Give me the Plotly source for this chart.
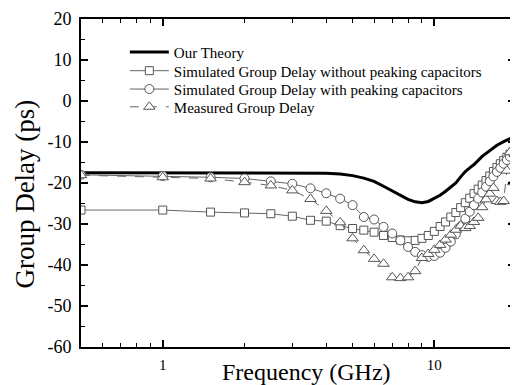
import plotly.graph_objects as go

# ---- data ----
freq_ghz = [0.5, 1.0, 1.5, 2.0, 2.5, 3.0, 3.5, 4.0, 4.5, 5.0,
            5.5, 6.0, 6.5, 7.0, 7.5, 8.0, 8.5, 9.0, 9.5, 10.0,
            10.5, 11.0, 11.5, 12.0, 12.5, 13.0, 13.5, 14.0, 14.5, 15.0,
            15.5, 16.0, 16.5, 17.0, 17.5, 18.0, 18.5, 19.0, 19.5, 20.0]

theory_freq = [0.5, 1.0, 2.0, 3.0, 4.0, 4.5, 5.0, 5.5, 6.0, 6.5, 7.0, 7.5,
               8.0, 8.5, 9.0, 9.5, 10.0, 10.5, 11.0, 11.5, 12.0, 12.5, 13.0,
               13.5, 14.0, 15.0, 16.0, 17.0, 18.0, 19.0, 20.0]
theory_delay = [-17.5, -17.5, -17.5, -17.5, -17.6, -17.8, -18.2, -18.8, -19.6,
                -20.8, -22.0, -23.0, -24.0, -24.6, -24.8, -24.5, -23.8, -23.0,
                -22.0, -21.0, -20.0, -18.5, -17.2, -16.3, -15.5, -13.5, -12.0,
                -10.8, -9.9, -9.1, -8.5]

sim_without = [-26.6, -26.6, -27.1, -27.3, -27.5, -28.1, -29.1, -29.3, -30.4, -31.1,
               -31.5, -32.0, -32.8, -33.3, -33.9, -34.1, -34.0, -33.5, -32.8, -31.8,
               -30.6, -29.5, -28.3, -27.2, -26.0, -24.8, -23.7, -22.6, -21.5, -20.5,
               -19.4, -18.3, -17.2, -16.2, -15.3, -14.5, -13.7, -13.0, -12.3, -11.8]

sim_with = [-18.0, -18.3, -18.6, -18.9, -19.6, -20.2, -21.3, -22.5, -23.8, -25.4,
            -28.3, -28.9, -30.7, -32.3, -34.0, -35.6, -36.8, -37.6, -38.0, -37.8,
            -37.0, -35.8, -34.3, -32.5, -30.6, -28.7, -27.0, -25.4, -23.8, -22.3,
            -20.9, -19.6, -18.4, -17.3, -16.3, -15.3, -14.4, -13.6, -12.9, -12.3]

measured = [-18.1, -18.6, -18.9, -19.8, -20.6, -21.8, -23.9, -26.8, -29.6, -33.5,
            -36.4, -38.5, -39.7, -43.0, -43.2, -43.0, -41.5, -38.3, -37.3, -36.3,
            -35.1, -33.8, -32.6, -31.4, -30.4, -31.0, -30.5, -29.5, -28.5, -25.9,
            -24.0, -22.6, -21.2, -24.4, -24.6, -24.4, -17.0, -12.5, -19.8, -19.0]

names = ["Our Theory",
         "Simulated Group Delay without peaking capacitors",
         "Simulated Group Delay with peaking capacitors",
         "Measured Group Delay"]

y_ticks = [20, 10, 0, -10, -20, -30, -40, -50, -60]
y_ticktext = ["20", "10", "0", "-10", "-20", "-30", "-40", "-50", "-60"]
x_ticks = [1, 10]
x_ticktext = ["1", "10"]
x_minor = [0.6, 0.7, 0.8, 0.9, 2, 3, 4, 5, 6, 7, 8, 9, 20]
y_minor = [15, 5, -5, -15, -25, -35, -45, -55]

SERIF = "Liberation Serif"
GRAY = "#666666"

fig = go.Figure()
fig.add_trace(go.Scatter(x=theory_freq, y=theory_delay, mode="lines", name=names[0],
                         legend="legend",
                         line=dict(color="black", width=3)))
fig.add_trace(go.Scatter(x=freq_ghz, y=sim_without, mode="lines+markers", name=names[1],
                         legend="legend2",
                         line=dict(color=GRAY, width=1),
                         marker=dict(symbol="square", size=8, color="white",
                                     line=dict(color="#555555", width=1))))
fig.add_trace(go.Scatter(x=freq_ghz, y=sim_with, mode="lines+markers", name=names[2],
                         legend="legend3",
                         line=dict(color=GRAY, width=1),
                         marker=dict(symbol="circle", size=9, color="white",
                                     line=dict(color="#555555", width=1))))
fig.add_trace(go.Scatter(x=freq_ghz, y=measured, mode="lines+markers", name=names[3],
                         legend="legend4",
                         line=dict(color=GRAY, width=1, dash="dash"),
                         marker=dict(symbol="triangle-up", size=10, color="white",
                                     line=dict(color="#555555", width=1))))


def legend_row(ypos):
    return dict(x=0.101, y=ypos, xanchor="left", yanchor="top",
                bgcolor="rgba(0,0,0,0)", borderwidth=0,
                font=dict(family=SERIF, size=15, color="black"),
                itemwidth=39, tracegroupgap=0)


# the page body has an 8px default margin, so the figure is sized to fit the window
fig.update_layout(
    width=510, height=377,
    margin=dict(l=73, r=1, t=7, b=38),
    paper_bgcolor="white", plot_bgcolor="white",
    font=dict(family=SERIF, color="black"),
    showlegend=True,
    legend=legend_row(0.949),
    legend2=legend_row(0.892),
    legend3=legend_row(0.836),
    legend4=legend_row(0.782),
    xaxis=dict(type="log", range=[-0.301, 1.297],
               tickmode="array", tickvals=x_ticks, ticktext=x_ticktext,
               ticks="inside", ticklen=7, tickwidth=1.5, tickcolor="black",
               minor=dict(tickmode="array", tickvals=x_minor, ticks="inside",
                          ticklen=4, tickwidth=1.2, tickcolor="black", showgrid=False),
               showline=True, linecolor="black", linewidth=2, mirror="ticks",
               showgrid=False, zeroline=False, ticklabelstandoff=3,
               tickfont=dict(family=SERIF, size=15)),
    yaxis=dict(range=[-60, 20],
               tickmode="array", tickvals=y_ticks, ticktext=y_ticktext,
               ticks="inside", ticklen=7, tickwidth=1.5, tickcolor="black",
               minor=dict(tickmode="array", tickvals=y_minor, ticks="inside",
                          ticklen=4, tickwidth=1.2, tickcolor="black", showgrid=False),
               showline=True, linecolor="black", linewidth=2, mirror="ticks",
               showgrid=False, zeroline=False,
               tickfont=dict(family=SERIF, size=18),
               ticklabelstandoff=4, ticklabeloverflow="allow"),
    annotations=[
        dict(text="Frequency (GHz)", xref="paper", yref="paper",
             x=0.52, y=-0.075, xanchor="center", yanchor="middle",
             showarrow=False, font=dict(family=SERIF, size=24, color="black")),
        dict(text="Group Delay (ps)", xref="paper", yref="paper", textangle=-90,
             x=-0.128, y=0.466, xanchor="center", yanchor="middle",
             showarrow=False, font=dict(family=SERIF, size=27, color="black")),
    ],
)

fig.write_html("out.html")
